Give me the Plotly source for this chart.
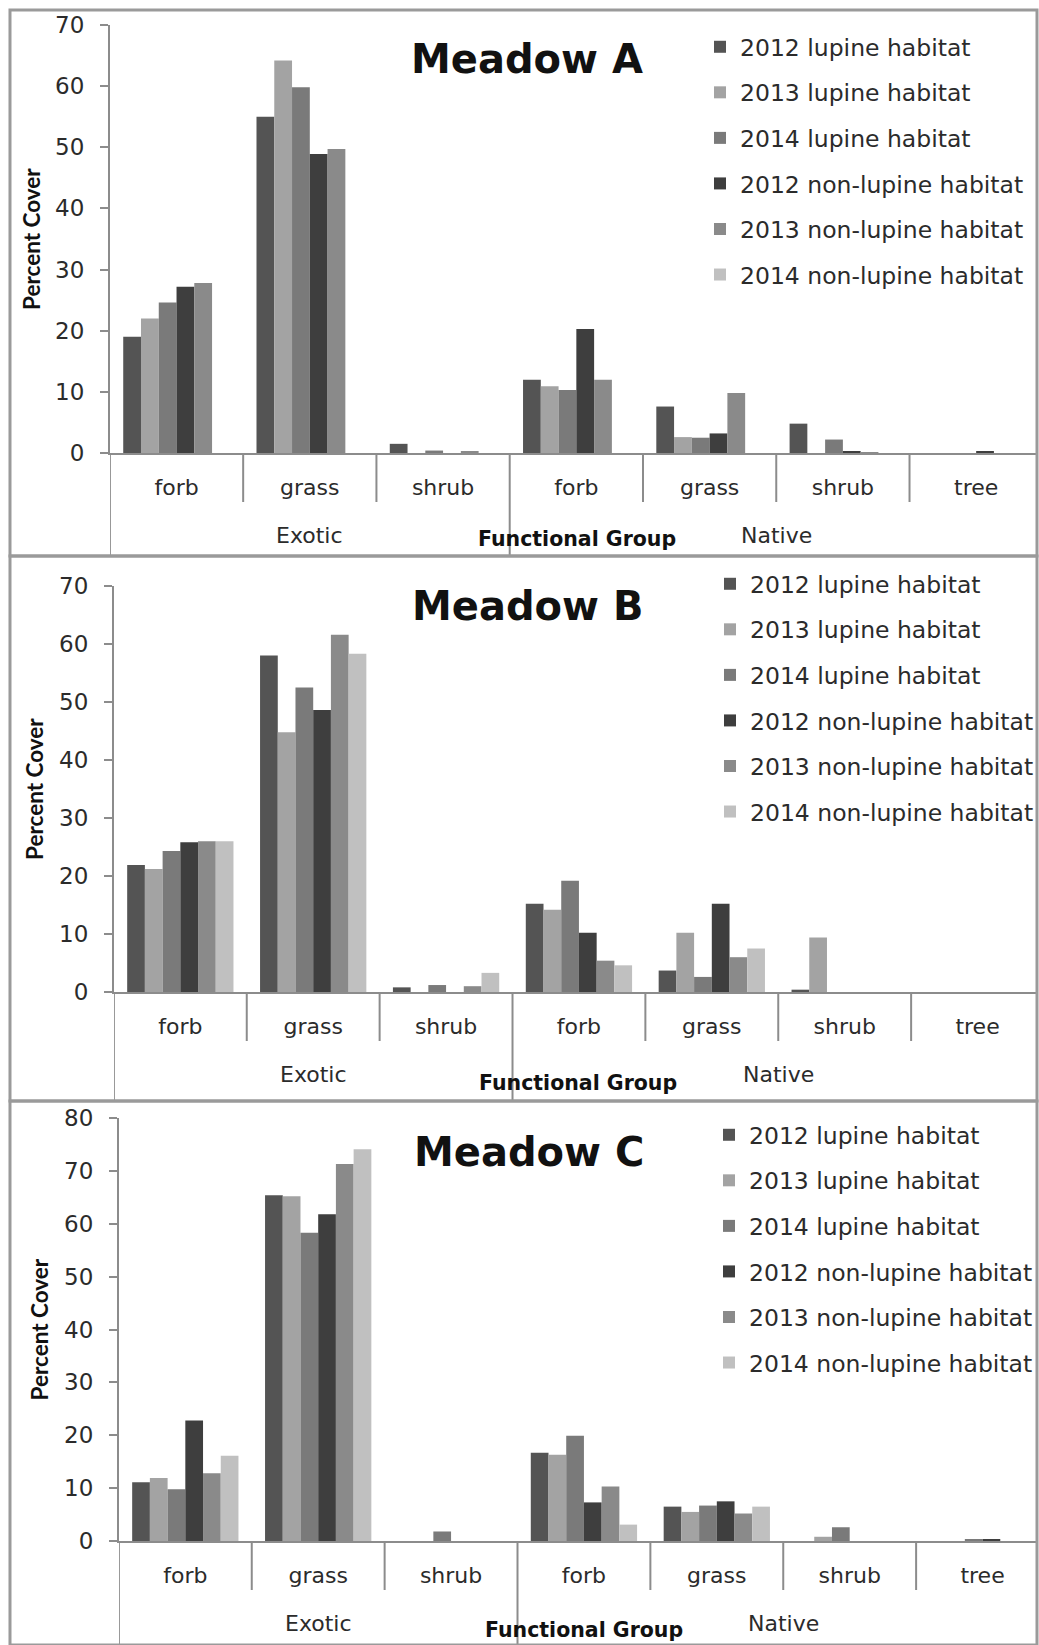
import plotly.graph_objects as go

# Figure size in pixels (margins are zero, so paper == pixels / size)
W, H = 1039, 1645

# Functional groups along the x axis
categories = ["forb", "grass", "shrub", "forb", "grass", "shrub", "tree"]
origin_labels = ["Exotic", "Native"]
origin_centers = [1.0, 4.5]          # centre of each origin block, in category units
origin_break = 2.5                   # boundary between Exotic and Native

series_names = [
    "2012 lupine habitat",
    "2013 lupine habitat",
    "2014 lupine habitat",
    "2012 non-lupine habitat",
    "2013 non-lupine habitat",
    "2014 non-lupine habitat",
]
series_colors = ["#545454", "#a3a3a3", "#7a7a7a", "#3e3e3e", "#8a8a8a", "#c0c0c0"]

# Percent cover, one row per series (same order as series_names),
# one column per category (same order as categories)
meadow_a = [
    [19.0, 55.0, 1.5, 12.0, 7.6, 4.8, 0.0],
    [22.0, 64.2, 0.0, 10.9, 2.6, 0.0, 0.0],
    [24.6, 59.8, 0.4, 10.3, 2.5, 2.2, 0.0],
    [27.2, 48.9, 0.0, 20.3, 3.2, 0.2, 0.2],
    [27.8, 49.7, 0.2, 12.0, 9.8, 0.1, 0.0],
    [0.0, 0.0, 0.0, 0.0, 0.0, 0.0, 0.0],
]
meadow_b = [
    [21.9, 58.0, 0.8, 15.2, 3.7, 0.4, 0.0],
    [21.2, 44.8, 0.0, 14.2, 10.2, 9.4, 0.0],
    [24.3, 52.5, 1.2, 19.2, 2.6, 0.0, 0.0],
    [25.8, 48.6, 0.0, 10.2, 15.2, 0.0, 0.0],
    [26.0, 61.6, 1.0, 5.4, 6.0, 0.0, 0.0],
    [26.0, 58.3, 3.3, 4.6, 7.5, 0.0, 0.0],
]
meadow_c = [
    [11.1, 65.4, 0.0, 16.7, 6.5, 0.0, 0.0],
    [11.9, 65.2, 0.0, 16.3, 5.5, 0.8, 0.0],
    [9.8, 58.3, 1.8, 19.9, 6.7, 2.6, 0.2],
    [22.8, 61.8, 0.0, 7.3, 7.5, 0.0, 0.2],
    [12.8, 71.3, 0.0, 10.3, 5.2, 0.0, 0.0],
    [16.1, 74.1, 0.0, 3.1, 6.5, 0.0, 0.0],
]

# Panel geometry (pixels from top-left)
panels = [
    dict(title="Meadow A", values=meadow_a, ymax=70, left=110, top=25, zero=453,
         box_top=10, box_bottom=556, cat_w=133.4, title_xy=(528, 59),
         legend_xy=(700, 25), ytitle_x=31, fg_xy=(578, 539)),
    dict(title="Meadow B", values=meadow_b, ymax=70, left=114, top=586, zero=992,
         box_top=556, box_bottom=1101, cat_w=133.0, title_xy=(528, 606),
         legend_xy=(711, 562), ytitle_x=34, fg_xy=(579, 1083)),
    dict(title="Meadow C", values=meadow_c, ymax=80, left=119, top=1118, zero=1541,
         box_top=1101, box_bottom=1645, cat_w=133.0, title_xy=(530, 1152),
         legend_xy=(709, 1113), ytitle_x=40, fg_xy=(585, 1630)),
]

FONT = "DejaVu Sans"
AXIS_GREY = "#8c8c8c"
TEXT = "#2b2b2b"


def px(x):
    return x / W


def py(y):
    return 1 - y / H


fig = go.Figure()
shapes = []
annotations = []
layout = {}

for p_i, p in enumerate(panels):
    n = p_i + 1
    xa = "x" if n == 1 else f"x{n}"
    ya = "y" if n == 1 else f"y{n}"
    leg = "legend" if n == 1 else f"legend{n}"

    for s_i, name in enumerate(series_names):
        fig.add_trace(go.Bar(
            x=list(range(len(categories))),
            y=p["values"][s_i],
            name=name,
            marker=dict(color=series_colors[s_i], line=dict(width=0)),
            xaxis=xa, yaxis=ya,
            legend=leg,
            legendgroup=f"{n}-{s_i}",
        ))

    x_hi = -0.5 + (W - p["left"]) / p["cat_w"]
    layout[f"xaxis{'' if n == 1 else n}"] = dict(
        domain=[px(p["left"]), 1.0],
        anchor=ya,
        range=[-0.5, x_hi],
        tickmode="array",
        tickvals=list(range(len(categories))),
        ticktext=categories,
        ticks="",
        showline=True, linecolor=AXIS_GREY, linewidth=2,
        showgrid=False, zeroline=False,
        tickfont=dict(family=FONT, size=22, color=TEXT),
        ticklabelstandoff=14,
        automargin=False,
        fixedrange=True,
    )
    layout[f"yaxis{'' if n == 1 else n}"] = dict(
        domain=[py(p["zero"]), py(p["top"])],
        anchor=xa,
        range=[0, p["ymax"]],
        dtick=10,
        ticks="outside", ticklen=8, tickwidth=2, tickcolor=AXIS_GREY,
        showline=True, linecolor=AXIS_GREY, linewidth=2,
        showgrid=False, zeroline=False,
        tickfont=dict(family=FONT, size=23, color=TEXT),
        ticklabelstandoff=11,
        automargin=False,
        fixedrange=True,
    )

    # Category dividers below the axis; the origin break and the left edge run to the panel bottom
    for k in range(len(categories)):
        xb = k - 0.5
        long_line = (xb == -0.5) or (xb == origin_break)
        y_end = p["box_bottom"] if long_line else p["zero"] + 49
        shapes.append(dict(type="line", xref=xa, yref="paper",
                           x0=xb, x1=xb, y0=py(p["zero"]), y1=py(y_end),
                           line=dict(color=AXIS_GREY, width=2)))

    # Panel frame
    shapes.append(dict(type="rect", xref="paper", yref="paper",
                       x0=px(10), x1=px(1038), y0=py(p["box_bottom"]), y1=py(p["box_top"]),
                       line=dict(color="#9a9a9a", width=3)))

    # Origin labels (Exotic / Native)
    for lab, cx in zip(origin_labels, origin_centers):
        annotations.append(dict(text=lab, x=cx, xref=xa, y=py(p["zero"] + 82), yref="paper",
                                showarrow=False, xanchor="center", yanchor="middle",
                                font=dict(family=FONT, size=22, color=TEXT)))

    # Axis titles
    fx, fy = p["fg_xy"]
    annotations.append(dict(text="<b>Functional Group</b>", x=px(fx), y=py(fy),
                            xref="paper", yref="paper", showarrow=False,
                            xanchor="center", yanchor="middle",
                            font=dict(family=FONT, size=20.5, color="#111")))
    annotations.append(dict(text="<b>Percent Cover</b>", x=px(p["ytitle_x"]),
                            y=py((p["top"] + p["zero"]) / 2),
                            xref="paper", yref="paper", showarrow=False, textangle=-90,
                            xanchor="center", yanchor="middle",
                            font=dict(family="Lato", size=22.5, color="#111")))

    # Panel title
    tx, ty = p["title_xy"]
    annotations.append(dict(text=f"<b>{p['title']}</b>", x=px(tx), y=py(ty),
                            xref="paper", yref="paper", showarrow=False,
                            xanchor="center", yanchor="middle",
                            font=dict(family=FONT, size=40, color="#111")))

    lx, ly = p["legend_xy"]
    layout[leg] = dict(x=px(lx), y=py(ly), xanchor="left", yanchor="top",
                       bgcolor="rgba(0,0,0,0)", borderwidth=0,
                       font=dict(family=FONT, size=23.5, color=TEXT),
                       tracegroupgap=12, itemwidth=30, traceorder="grouped")

fig.update_layout(
    width=W, height=H,
    margin=dict(l=0, r=0, t=0, b=0),
    paper_bgcolor="white", plot_bgcolor="white",
    barmode="group", bargap=0.2, bargroupgap=0,
    showlegend=True,
    shapes=shapes,
    annotations=annotations,
    **layout,
)

fig.write_html("out.html")
